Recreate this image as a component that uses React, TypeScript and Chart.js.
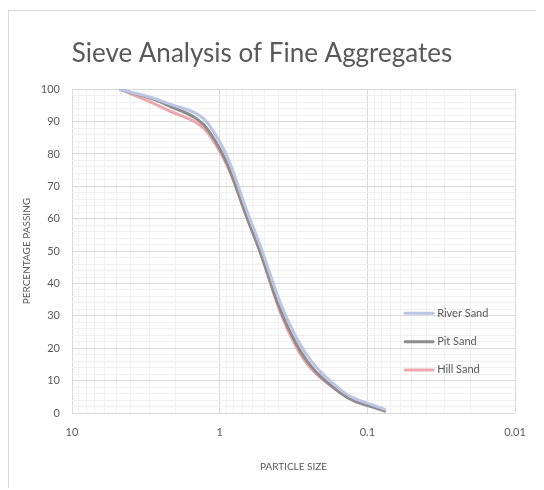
import React, { useEffect, useRef } from 'react';
import { Chart, registerables } from 'chart.js';

Chart.register(...registerables);

// ---- data ----
const sieveSizes = [4.75, 2.36, 1.18, 0.6, 0.3, 0.15, 0.075];
const riverSand = [100, 96, 89, 58, 23, 7, 1];
const pitSand = [100, 95.5, 87, 56, 21, 6, 0.5];
const hillSand = [100, 94, 86, 56, 20, 6, 0.5];
const seriesNames = ['River Sand', 'Pit Sand', 'Hill Sand'];
const seriesColors = ['#bcc6e4', '#8c8c8c', '#eea7ad'];
const xTickLabels = ['10', '1', '0.1', '0.01'];
const yMin = 0;
const yMax = 100;

const FONT = 'Lato, "Open Sans", "DejaVu Sans", sans-serif';
const TEXT = '#595959';
const MAJOR = '#d9d9d9';
const MINOR = '#f0f0f0';

const isDecade = (v: number) => Math.abs(Math.log10(v) - Math.round(Math.log10(v))) < 1e-6;
const labelFor = (v: number) => {
  const l = xTickLabels.find((s) => Math.abs(Math.log10(Number(s)) - Math.log10(v)) < 1e-6);
  return l ?? '';
};

const legendYs = [30.8, 22.0, 13.3];

const insideLegend = {
  id: 'insideLegend',
  afterDatasetsDraw(chart: any) {
    const { ctx, chartArea, scales } = chart;
    const x0 = chartArea.left + (chartArea.right - chartArea.left) * 0.752;
    const len = 28;
    ctx.save();
    ctx.font = `11px ${FONT}`;
    ctx.textBaseline = 'middle';
    ctx.textAlign = 'left';
    chart.data.datasets.forEach((ds: any, i: number) => {
      const y = scales.y.getPixelForValue(legendYs[i]);
      ctx.strokeStyle = ds.borderColor;
      ctx.lineWidth = 3;
      ctx.lineCap = 'round';
      ctx.beginPath();
      ctx.moveTo(x0, y);
      ctx.lineTo(x0 + len, y);
      ctx.stroke();
      ctx.fillStyle = TEXT;
      ctx.fillText(ds.label, x0 + len + 4, y);
    });
    ctx.restore();
  },
};

export default function App() {
  const ref = useRef<HTMLCanvasElement | null>(null);
  useEffect(() => {
    if (!ref.current) return;
    const series = [riverSand, pitSand, hillSand];
    const chart = new Chart(ref.current, {
      type: 'line',
      data: {
        datasets: series.map((vals, i) => ({
          label: seriesNames[i],
          data: sieveSizes.map((s, j) => ({ x: s, y: vals[j] })),
          borderColor: seriesColors[i],
          backgroundColor: seriesColors[i],
          borderWidth: 3,
          pointRadius: 0,
          tension: 0.4,
          fill: false,
        })),
      },
      options: {
        responsive: false,
        animation: false,
        devicePixelRatio: 1,
        layout: { padding: { left: 0, right: 29, top: 0, bottom: 0 } },
        plugins: {
          legend: { display: false },
          tooltip: { enabled: false },
          title: {
            display: true,
            text: 'Sieve Analysis of Fine Aggregates',
            color: TEXT,
            font: { family: FONT, size: 26, weight: 'normal' },
            padding: { top: 27, bottom: 20 },
          },
        },
        scales: {
          x: {
            type: 'logarithmic',
            reverse: true,
            min: 0.01,
            max: 10,
            afterBuildTicks: (scale: any) => {
              scale.ticks = scale.ticks.filter((t: any) => {
                const e = Math.floor(Math.log10(t.value) + 1e-9);
                const sig = t.value / Math.pow(10, e);
                return Math.abs(sig - Math.round(sig)) < 1e-6;
              });
            },
            afterFit: (scale: any) => {
              scale.height = 77;
            },
            grid: {
              color: (c: any) => (c.tick && isDecade(c.tick.value) ? MAJOR : MINOR),
              drawTicks: false,
              lineWidth: 1,
            },
            border: { display: false },
            ticks: {
              autoSkip: false,
              maxRotation: 0,
              padding: 13,
              color: TEXT,
              font: { family: FONT, size: 11 },
              callback: (v: any) => (isDecade(Number(v)) ? labelFor(Number(v)) : ''),
            },
            title: {
              display: true,
              text: 'PARTICLE SIZE',
              color: TEXT,
              font: { family: FONT, size: 10 },
              padding: { top: 4, bottom: 17 },
            },
          },
          y: {
            min: yMin,
            max: yMax,
            afterFit: (scale: any) => {
              scale.width = 63;
            },
            grid: {
              color: (c: any) => (c.tick && c.tick.value % 10 === 0 ? MAJOR : MINOR),
              drawTicks: false,
              lineWidth: 1,
            },
            border: { display: false },
            ticks: {
              stepSize: 2,
              maxTicksLimit: 100,
              autoSkip: false,
              padding: 12,
              color: TEXT,
              font: { family: FONT, size: 11 },
              callback: (v: any) => (Number(v) % 10 === 0 ? String(v) : ''),
            },
            title: {
              display: true,
              text: 'PERCENTAGE PASSING',
              color: TEXT,
              font: { family: FONT, size: 10 },
              padding: { top: 12, bottom: 4 },
            },
          },
        },
      },
      plugins: [insideLegend],
    } as any);
    return () => chart.destroy();
  }, []);

  return (
    <div
      style={{
        position: 'relative',
        top: 2,
        width: 535,
        height: 479,
        borderTop: '1px solid #d9d9d9',
        borderLeft: '1px solid #d9d9d9',
        background: '#fff',
      }}
    >
      <canvas ref={ref} width={535} height={479} style={{ display: 'block', width: 535, height: 479 }} />
    </div>
  );
}
